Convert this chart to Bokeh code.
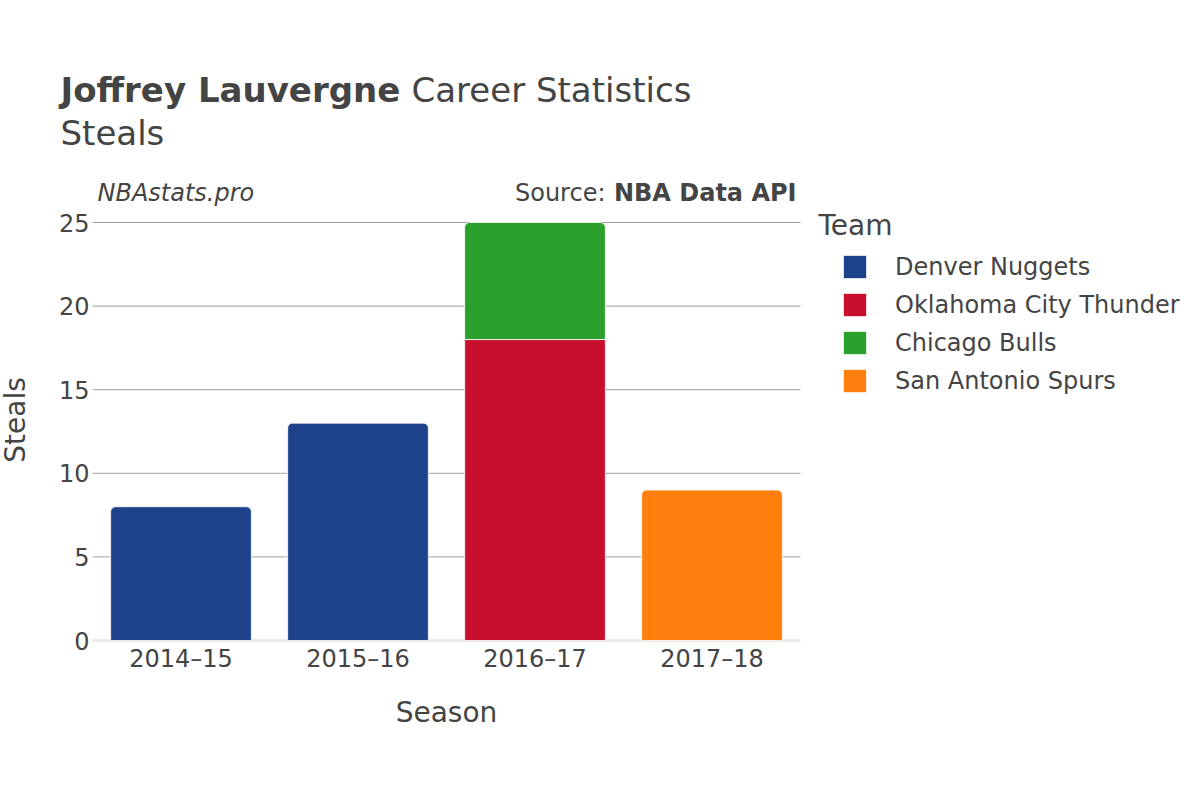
from bokeh.plotting import figure
from bokeh.models import ColumnDataSource, Range1d, Label, Legend, LegendItem
from bokeh.core.properties import value
from bokeh.embed import file_html
from bokeh.resources import INLINE
import math

# ---------------- data ----------------
seasons = ["2014–15", "2015–16", "2016–17", "2017–18"]
teams = ["Denver Nuggets", "Oklahoma City Thunder", "Chicago Bulls", "San Antonio Spurs"]
team_colors = ["#1D428A", "#C8102E", "#2CA02C", "#FF7F0E"]
denver_steals = [8, 13, 0, 0]
okc_steals = [0, 0, 18, 0]
chicago_steals = [0, 0, 7, 0]
spurs_steals = [0, 0, 0, 9]
y_ticks = [0, 5, 10, 15, 20, 25]
y_max = 25

series = [denver_steals, okc_steals, chicago_steals, spurs_steals]

FONT = "DejaVu Sans"
TXT = "#444444"

# layout (canvas pixels): plot area x 92..800, y 222..640
W, H = 1200, 800
FL, FR, FT, FB = 92, 800, 222, 640
nx = len(seasons)
ppx = (FR - FL) / nx          # pixels per category
ppy = (FB - FT) / y_max       # pixels per unit

p = figure(x_range=Range1d(-FL / ppx, (W - FL) / ppx),
           y_range=Range1d(-(H - FB) / ppy, FB / ppy),
           width=W, height=H, output_backend="svg", toolbar_location=None,
           title=None, min_border=0)
p.min_border_left = p.min_border_right = p.min_border_top = p.min_border_bottom = 0
p.axis.visible = False
p.grid.visible = False
p.outline_line_color = None
p.background_fill_color = "white"
p.border_fill_color = "white"

def sx(X):
    return (X - FL) / ppx
def sy(Y):
    return (FB - Y) / ppy

cx = [i + 0.5 for i in range(nx)]

# grid lines
grid_t = [t for t in y_ticks if t > 0]
p.segment(x0=[0] * len(grid_t), x1=[nx] * len(grid_t), y0=grid_t, y1=grid_t,
          line_color="#a0a0a0", line_width=1)
p.segment(x0=[0], x1=[nx], y0=[0], y1=[0], line_color="#eaeaea", line_width=3)

# bars (stacked)
totals = [sum(s[i] for s in series) for i in range(nx)]
bottom_acc = [0] * nx
legend_items = []
for team, color, vals in zip(teams, team_colors, series):
    first_r = None
    for is_top in (True, False):
        xs, bots, tops = [], [], []
        for i, v in enumerate(vals):
            if v <= 0:
                continue
            top = bottom_acc[i] + v
            if (top >= totals[i]) == is_top:
                xs.append(cx[i]); bots.append(bottom_acc[i]); tops.append(top)
        if not xs:
            continue
        src = ColumnDataSource(dict(x=xs, bottom=bots, top=tops))
        r = p.vbar(x="x", bottom="bottom", top="top", width=0.795, source=src,
                   fill_color=color, line_color="white", line_width=0.8,
                   border_radius=(5, 5, 0, 0) if is_top else 0)
        if first_r is None:
            first_r = r
    for i, v in enumerate(vals):
        bottom_acc[i] += v
    legend_items.append(LegendItem(label=team, renderers=[first_r]))

# tick labels
p.text(x=[sx(89)] * len(y_ticks), y=y_ticks, text=[str(t) for t in y_ticks],
       text_font=value(FONT), text_font_size=value("24px"), text_color=TXT,
       text_align="right", text_baseline="middle")
p.text(x=cx, y=[sy(658)] * nx, text=seasons,
       text_font=value(FONT), text_font_size=value("24px"), text_color=TXT,
       text_align="center", text_baseline="alphabetic")

# legend
leg = Legend(items=legend_items, location=(840, H - 395),
             orientation="vertical", padding=0, margin=0, spacing=9,
             glyph_width=29, glyph_height=29, label_height=23,
             label_standoff=26, label_text_font=FONT,
             label_text_font_size="24px", label_text_color=TXT,
             border_line_color=None, background_fill_alpha=0)
p.add_layout(leg, "center")

# texts
def lab(X, Y, text, size, style="normal", align="left", baseline="alphabetic", angle=0):
    p.add_layout(Label(x=sx(X), y=sy(Y), text=text, text_font=FONT,
                       text_font_size=size, text_font_style=style,
                       text_color=TXT, text_align=align, text_baseline=baseline,
                       angle=angle))

lab(60, 89, "Joffrey Lauvergne", "34px", "bold")
lab(411, 89, "Career Statistics", "34px")
lab(60, 132, "Steals", "34px")
lab(97, 192, "NBAstats.pro", "24px", "italic")
lab(605, 192, "Source:", "24px", align="right")
lab(796, 192, "NBA Data API", "24px", "bold", align="right")
lab(818, 225, "Team", "28px")
lab(446, 712, "Season", "28px", align="center")
lab(15, 419.5, "Steals", "28px", align="center", angle=math.pi / 2)

open("out.html", "w").write(file_html(p, INLINE))
